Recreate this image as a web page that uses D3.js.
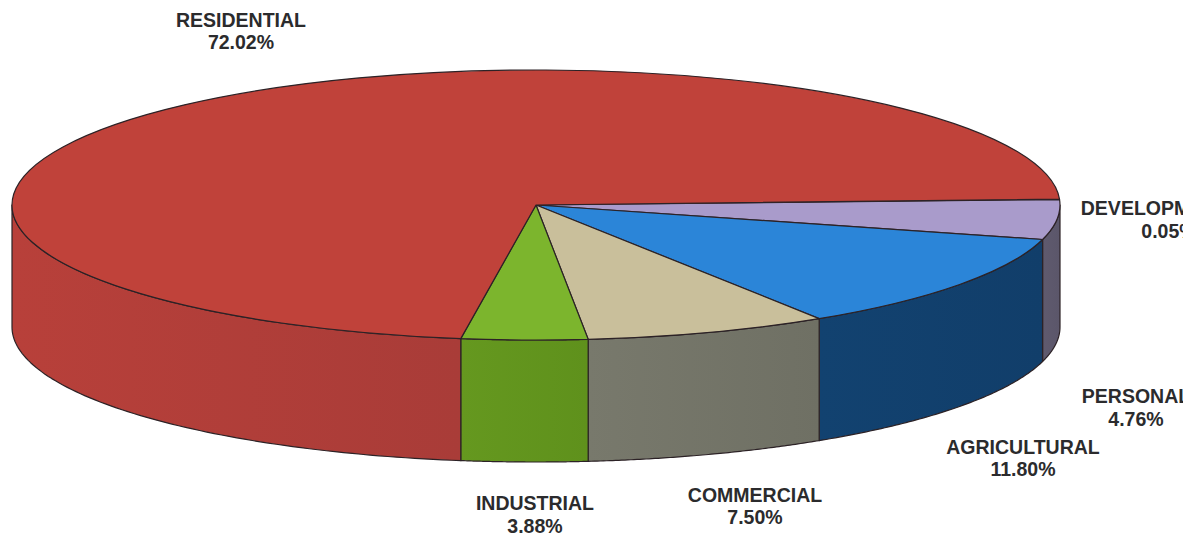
<!DOCTYPE html>
<html>
<head>
<meta charset="utf-8">
<script src="https://cdn.jsdelivr.net/npm/d3@7/dist/d3.min.js"></script>
<style>
  html, body { margin: 0; padding: 0; background: #ffffff; overflow: hidden; }
  svg { display: block; }
  text { font-family: "Liberation Sans", Arial, sans-serif; font-weight: 700; font-size: 19.5px; fill: #2b2b2d; text-anchor: middle; }
</style>
</head>
<body>
<svg id="chart" width="1196" height="538"></svg>
<script>
// Slices run clockwise, starting just above the 3 o'clock position.
const categories = ["DEVELOPMENT", "PERSONAL", "AGRICULTURAL", "COMMERCIAL", "INDUSTRIAL", "RESIDENTIAL"];
const shares = [0.05, 4.76, 11.80, 7.50, 3.88, 72.02];
const shareLabels = ["0.05%", "4.76%", "11.80%", "7.50%", "3.88%", "72.02%"];

const topColors = ["#8f86b8", "#a99bcb", "#2b85d8", "#c9bf9b", "#7cb52d", "#c0423a"];
const sideLight = ["#5a5470", "#5f5a6e", "#124270", "#78796c", "#65981f", "#b8403a"];
const sideDark = ["#54506a", "#5b566a", "#113e6a", "#6f7064", "#5f911c", "#a93c38"];

// Label anchors: name x, name baseline, share x, share baseline.
const labelSpots = [
  [1155, 214.5, 1169, 238], [1136, 402.5, 1136, 426], [1023, 453.5, 1023, 476],
  [755, 502, 755, 524], [535, 510, 535, 533], [241, 26.5, 241, 49]
];

const svg = d3.select("#chart");
const width = 1196, height = 538;
const cx = 536, cy = 205, rx = 524, ry = 135, depth = 122;
const outline = "#2c2226";
const toRad = Math.PI / 180;

// d3.pie measures from 12 o'clock, so this start sits 2.5 degrees above 3 o'clock.
const pie = d3.pie().sort(null).value(d => d)
  .startAngle(87.5 * toRad)
  .endAngle((87.5 + 360) * toRad);
const slices = pie(shares);

const defs = svg.append("defs");
defs.append("clipPath").attr("id", "label-clip")
  .append("rect").attr("width", 1183).attr("height", height);

// Position on the elliptical rim for a pie angle, at a given drop below the top face.
const rimX = a => cx + rx * Math.sin(a);
const rimY = (a, drop) => cy - ry * Math.cos(a) + drop;

// The wall of a slice only shows along the front half of the rim.
const frontStart = 90 * toRad, frontEnd = 270 * toRad;
const wallLine = d3.line().x(d => d[0]).y(d => d[1]);

function wallPath(s) {
  const spans = [[s.startAngle, s.endAngle], [s.startAngle - 2 * Math.PI, s.endAngle - 2 * Math.PI]];
  for (const [a0, a1] of spans) {
    const from = Math.max(a0, frontStart), to = Math.min(a1, frontEnd);
    if (to <= from) continue;
    const angles = d3.range(0, 81).map(i => from + (to - from) * i / 80);
    const upper = angles.map(a => [rimX(a), rimY(a, 0)]);
    const lower = angles.slice().reverse().map(a => [rimX(a), rimY(a, depth)]);
    return wallLine(upper.concat(lower)) + "Z";
  }
  return null;
}

// Walls: each one gets a soft left-to-right shade.
slices.forEach((s, i) => {
  const d = wallPath(s);
  if (!d) return;
  const id = "wall-" + i;
  const g = defs.append("linearGradient").attr("id", id);
  g.append("stop").attr("offset", "0%").attr("stop-color", sideLight[i]);
  g.append("stop").attr("offset", "100%").attr("stop-color", sideDark[i]);
  svg.append("path")
    .attr("d", d)
    .attr("fill", `url(#${id})`)
    .attr("stroke", outline)
    .attr("stroke-width", 1.2)
    .attr("stroke-linejoin", "round");
});

// Top face: a circular arc squashed into the ellipse.
const arc = d3.arc().innerRadius(0).outerRadius(rx);
svg.append("g")
  .attr("transform", `translate(${cx},${cy}) scale(1,${ry / rx})`)
  .selectAll("path")
  .data(slices)
  .join("path")
  .attr("d", arc)
  .attr("fill", (d, i) => topColors[i])
  .attr("stroke", outline)
  .attr("stroke-width", 1.2)
  .attr("stroke-linejoin", "round")
  .attr("vector-effect", "non-scaling-stroke");

// Labels are cut off at the right edge of the plot area.
const labels = svg.append("g").attr("clip-path", "url(#label-clip)")
  .selectAll("g")
  .data(categories)
  .join("g");
labels.append("text")
  .attr("x", (d, i) => labelSpots[i][0])
  .attr("y", (d, i) => labelSpots[i][1])
  .text(d => d);
labels.append("text")
  .attr("x", (d, i) => labelSpots[i][2])
  .attr("y", (d, i) => labelSpots[i][3])
  .text((d, i) => shareLabels[i]);
</script>
</body>
</html>
